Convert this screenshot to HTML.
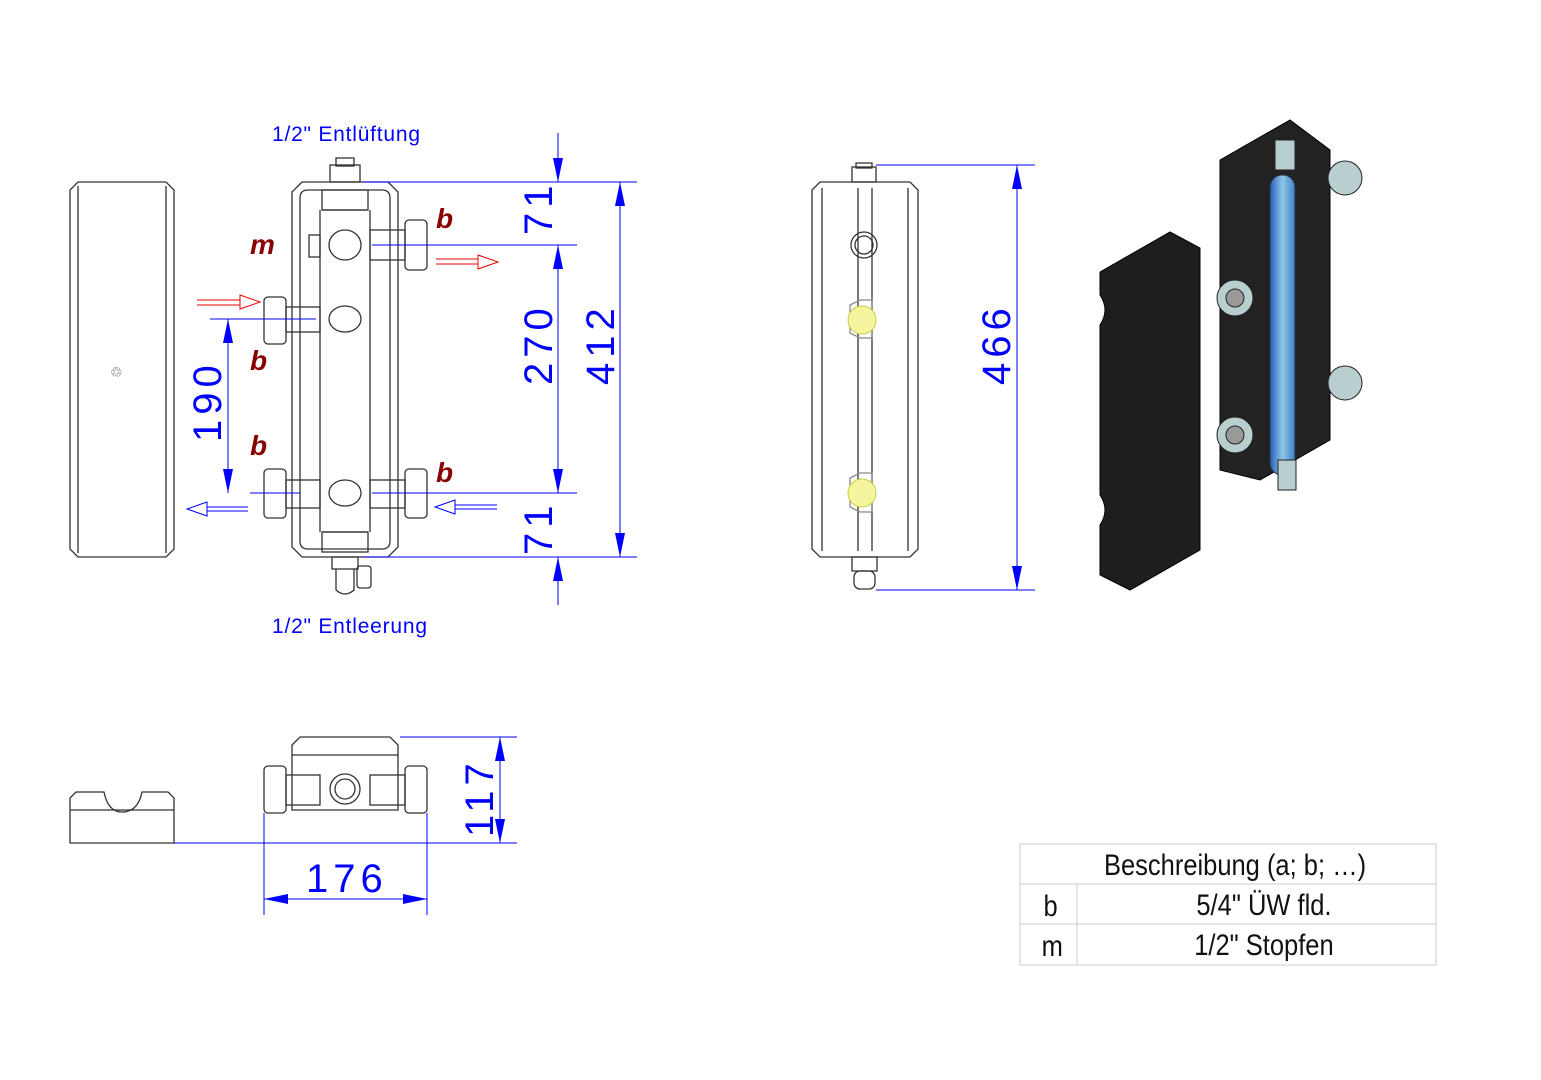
<!DOCTYPE html>
<html><head><meta charset="utf-8"><style>
html,body{margin:0;padding:0;background:#fff}
svg{display:block}
text{font-family:"Liberation Sans",sans-serif}
</style></head><body>
<svg width="1541" height="1080" viewBox="0 0 1541 1080" xmlns="http://www.w3.org/2000/svg">
<defs>
<marker id="ab" viewBox="0 0 24 10" refX="24" refY="5" markerWidth="24" markerHeight="10" orient="auto-start-reverse" markerUnits="userSpaceOnUse"><path d="M0,0 L24,5 L0,10 z" fill="#00f"/></marker>
<linearGradient id="blu" x1="0" x2="1"><stop offset="0" stop-color="#2a5db8"/><stop offset="0.5" stop-color="#8fc7e8"/><stop offset="1" stop-color="#3f7fc8"/></linearGradient>
</defs>
<g fill="none" stroke="#333" stroke-width="1.3">
<path d="M78,182 H166 L174,190 V549 L166,557 H78 L70,549 V190 Z"/>
<path d="M78,186 V553 M166,186 V553"/>
<path d="M302,182 H388 L398,192 V547 L388,557 H302 L292,547 V192 Z"/>
<path d="M308,190 H382 Q390,190 390,198 V541 Q390,549 382,549 H308 Q300,549 300,541 V198 Q300,190 308,190 Z"/>
<rect x="322" y="190" width="46" height="20"/>
<rect x="322" y="532" width="46" height="20"/>
<path d="M320,210 V532 M370,210 V532 M322,210 H368 M322,532 H368"/>
<ellipse cx="345" cy="245" rx="16" ry="15"/><ellipse cx="345" cy="319" rx="16" ry="13"/><ellipse cx="345" cy="493" rx="16" ry="13"/>
<rect x="330" y="165" width="30" height="17"/><rect x="336" y="158" width="18" height="8"/>
<rect x="332" y="557" width="26" height="12"/><path d="M336,569 V590 Q345,598 354,590 V569"/>
<rect x="357" y="566" width="14" height="22" rx="3"/>
<rect x="405" y="220" width="22" height="50" rx="4"/><rect x="370" y="230" width="35" height="30"/>
<rect x="264" y="297" width="22" height="47" rx="4"/><rect x="286" y="307" width="34" height="25"/>
<rect x="264" y="469" width="22" height="49" rx="4"/><rect x="286" y="480" width="34" height="28"/>
<rect x="405" y="469" width="22" height="49" rx="4"/><rect x="370" y="480" width="35" height="28"/>
<rect x="309" y="235" width="11" height="22"/>
<path d="M820,182 H910 L918,190 V549 L910,557 H820 L812,549 V190 Z"/>
<path d="M822,188 V551 M908,188 V551 M858,188 V551 M872,188 V551"/>
<rect x="852" y="167" width="24" height="15"/><rect x="856" y="163" width="16" height="5"/>
<rect x="852" y="557" width="25" height="14"/><rect x="854" y="571" width="21" height="18" rx="6"/>
<circle cx="864" cy="245" r="13"/><circle cx="864" cy="245" r="9"/>
<path d="M850,305 L860,300 H872 V338 H860 L850,333 Z" stroke="#888"/>
<path d="M850,478 L860,473 H872 V512 H860 L850,507 Z" stroke="#888"/>
<path d="M300,737 H390 L398,745 V810 H292 V745 Z"/><path d="M292,755 H398"/>
<rect x="264" y="766" width="22" height="47" rx="4"/><rect x="286" y="775" width="34" height="30"/>
<rect x="405" y="766" width="22" height="47" rx="4"/><rect x="370" y="775" width="35" height="30"/>
<circle cx="345" cy="789" r="15"/><circle cx="345" cy="789" r="10"/>
<path d="M76,792 H104 Q108,812 122,812 Q138,812 142,792 H168 L174,798 V843 H70 V798 Z"/>
<path d="M70,810 H174"/>
</g>
<g fill="#f5f5a0" stroke="#cc4" stroke-width="1"><circle cx="862" cy="320" r="14"/><circle cx="862" cy="493" r="14"/></g>
<text x="110" y="377" fill="#444" font-size="14">♲</text>
<path d="M1100,272 L1170,232 L1200,248 V550 L1130,590 L1100,575 V525 Q1110,510 1100,495 V325 Q1110,310 1100,295 Z" fill="#1e1e1e" stroke="#000"/>
<path d="M1220,160 L1290,120 L1330,150 V440 L1260,480 L1220,470 Z" fill="#222" stroke="#000"/>
<rect x="1270" y="175" width="25" height="300" rx="12" fill="url(#blu)" stroke="#234"/>
<g fill="#b9cfcf" stroke="#222"><circle cx="1345" cy="178" r="17"/><circle cx="1345" cy="383" r="17"/><circle cx="1235" cy="298" r="18"/><circle cx="1235" cy="435" r="18"/><rect x="1275" y="140" width="20" height="30"/><rect x="1278" y="460" width="18" height="30"/></g>
<g fill="#999" stroke="#222"><circle cx="1235" cy="298" r="9"/><circle cx="1235" cy="435" r="9"/></g>
<g stroke="#00f" stroke-width="1" fill="none">
<path d="M362,182 H637 M362,557 H637 M372,245 H577 M372,493 H577 M876,165 H1035 M876,590 H1035 M210,319 H316 M250,493 H300"/>
<path d="M558,133 V182" marker-end="url(#ab)"/>
<path d="M558,245 V493" marker-start="url(#ab)" marker-end="url(#ab)"/>
<path d="M558,605 V557" marker-end="url(#ab)"/>
<path d="M620,182 V557" marker-start="url(#ab)" marker-end="url(#ab)"/>
<path d="M228,319 V493" marker-start="url(#ab)" marker-end="url(#ab)"/>
<path d="M1017,165 V590" marker-start="url(#ab)" marker-end="url(#ab)"/>
<path d="M400,737 H517 M174,843 H517"/>
<path d="M500,737 V843" marker-start="url(#ab)" marker-end="url(#ab)"/>
<path d="M264,813 V915 M427,813 V915"/>
<path d="M264,899 H427" marker-start="url(#ab)" marker-end="url(#ab)"/>
<path d="M248,507 H207 M248,511 H207 M207,502 L187,509 L207,516 Z"/>
<path d="M497,505 H455 M497,509 H455 M455,500 L435,507 L455,514 Z"/>
</g>
<g stroke="#e00" fill="none" stroke-width="1"><path d="M197,300 H240 M197,305 H240 M240,295 L260,302 L240,309 Z"/><path d="M436,259 H478 M436,264 H478 M478,255 L498,262 L478,269 Z"/></g>
<g fill="#00f" font-size="40" letter-spacing="5">
<text transform="translate(552,235) rotate(-90)">71</text>
<text transform="translate(552,385) rotate(-90)">270</text>
<text transform="translate(614,385) rotate(-90)">412</text>
<text transform="translate(221,442) rotate(-90)">190</text>
<text transform="translate(552,555) rotate(-90)">71</text>
<text transform="translate(1010,385) rotate(-90)">466</text>
<text transform="translate(493,837) rotate(-90)">117</text>
<text x="306" y="892">176</text>
</g>
<g fill="#00f" font-size="21"><text x="272" y="141" textLength="148">1/2" Entlüftung</text><text x="272" y="633" textLength="155">1/2" Entleerung</text></g>
<g fill="#800" font-size="28" font-weight="bold" font-style="italic">
<text x="250" y="254">m</text><text x="436" y="228">b</text><text x="250" y="370">b</text><text x="250" y="455">b</text><text x="436" y="482">b</text>
</g>
<g stroke="#ccc" fill="none"><rect x="1020" y="844" width="416" height="121"/><path d="M1020,884 H1436 M1020,924 H1436 M1077,884 V965"/></g>
<g font-size="30" fill="#111" text-anchor="middle" transform="scale(0.85,1)">
<text x="1453" y="875">Beschreibung (a; b; …)</text>
<text x="1236" y="916">b</text><text x="1487" y="915">5/4" ÜW fld.</text>
<text x="1238" y="956">m</text><text x="1487" y="955">1/2" Stopfen</text>
</g>
</svg>
</body></html>
